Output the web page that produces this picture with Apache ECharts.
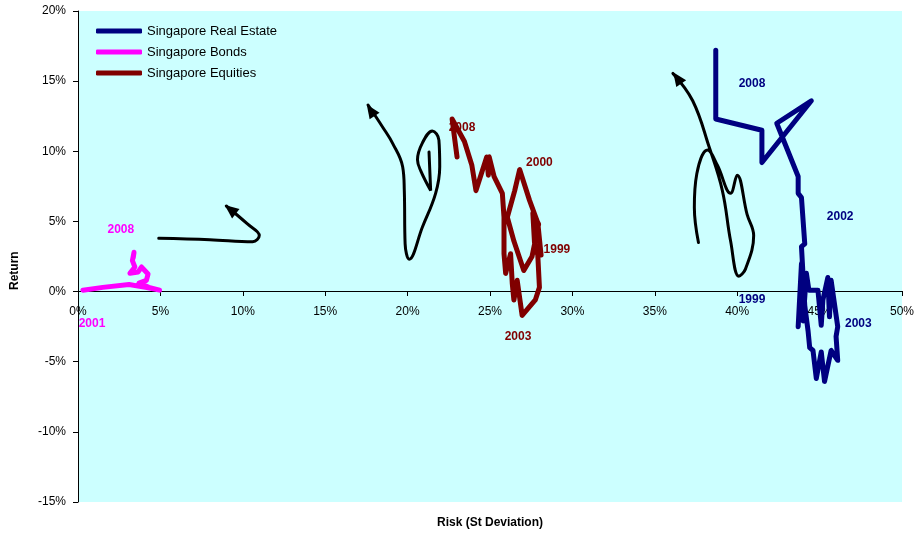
<!DOCTYPE html>
<html>
<head>
<meta charset="utf-8">
<script src="https://cdn.jsdelivr.net/npm/echarts@6/dist/echarts.min.js"></script>
<style>
  html, body { margin: 0; padding: 0; background: #fff; }
  #chart { width: 917px; height: 537px; }
</style>
</head>
<body>
<div id="chart"></div>
<script>
// Risk / return paths, [risk %, return %]
var bonds = [[0.3, 0.1], [1.5, 0.3], [3.1, 0.5], [4.1, 0.3], [4.95, 0.1], [4.3, 0.3], [3.7, 0.6],
  [4.15, 0.8], [4.25, 1.25], [3.85, 1.75], [3.65, 1.4], [3.15, 1.3], [3.45, 1.75], [3.3, 2.2],
  [3.4, 2.8], [3.35, 2.4]];

var equities = [[28.1, 2.6], [27.9, 4.9], [27.4, 6.5], [26.8, 8.7], [26.5, 7.2], [26.05, 5.3],
  [26.45, 3.6], [27.05, 1.5], [27.55, 2.5], [27.95, 4.8], [27.6, 5.6], [27.7, 3.5], [27.9, 2.6],
  [28.0, 0.3], [27.75, -0.6], [26.95, -1.7], [26.65, 0.8], [26.45, -0.6], [26.35, 0.6],
  [26.25, 2.7], [25.95, 1.3], [25.85, 2.7], [25.85, 5.3], [25.75, 7.0], [25.25, 8.2],
  [24.95, 9.6], [24.9, 8.3], [24.8, 9.6], [24.15, 7.2], [23.9, 9.0], [23.45, 10.7],
  [22.7, 12.3], [23.0, 9.6]];

var realEstate = [[43.8, -0.4], [43.7, -2.5], [43.9, 2.0], [44.0, -2.1], [44.2, 1.3], [44.35, 0.1],
  [44.9, 0.1], [45.1, -2.4], [45.2, -0.6], [45.5, 1.0], [45.6, -1.8], [45.7, 0.8], [46.1, -2.5],
  [46.0, -3.2], [46.1, -4.9], [45.7, -4.2], [45.3, -6.4], [45.1, -4.3], [44.8, -6.2],
  [44.6, -4.2], [44.4, -4.0], [44.3, -2.8], [44.1, -1.0], [43.9, 3.2], [44.1, 3.4], [43.9, 6.7],
  [43.7, 7.0], [43.7, 8.2], [42.4, 12.0], [44.5, 13.6], [41.5, 9.2], [41.5, 11.5],
  [38.7, 12.3], [38.7, 17.2]];

// hand-drawn trend arrows
var curveBonds = [[4.9, 3.8], [8.0, 3.7], [10.6, 3.55], [11.0, 4.0], [10.3, 4.8], [9.0, 6.1]];
var curveEquities = [[21.3, 9.95], [21.4, 7.2], [20.8, 8.6], [20.6, 9.4], [20.9, 10.6], [21.5, 11.45],
  [21.9, 10.8], [21.95, 8.9], [21.7, 7.0], [20.9, 4.6], [20.1, 2.3], [19.85, 3.4], [19.8, 7.2],
  [19.7, 8.9], [19.1, 10.55], [18.5, 11.7], [17.6, 13.3]];
var curveRealEstate = [[37.65, 3.5], [37.4, 6.0], [37.55, 8.4], [38.2, 10.1], [38.8, 9.0],
  [39.6, 7.0], [40.0, 8.3], [40.6, 5.5], [41.0, 4.0], [40.5, 1.6], [40.1, 1.1], [39.6, 3.6],
  [39.1, 7.2], [38.3, 10.3], [37.3, 13.6], [36.1, 15.55]];
var arrowHeads = [[9.24, 5.86, 52], [17.76, 12.93, 34], [36.36, 15.23, 35]];

// year labels
var bondYears = [["2008", 2.6, 4.43], ["2001", 0.85, -2.29]];
var equityYears = [["2008", 23.3, 11.71], ["2000", 28.0, 9.21], ["1999", 29.06, 3.0], ["2003", 26.7, -3.21]];
var realEstateYears = [["2008", 40.9, 14.79], ["2002", 46.25, 5.36], ["1999", 40.9, -0.57], ["2003", 47.35, -2.29]];

var xTicks = { min: 0, max: 50, step: 5 };
var yTicks = { min: -15, max: 20, step: 5 };

var FONT = "'Liberation Sans', Arial, sans-serif";
var C_RE = "#000080", C_BOND = "#ff00ff", C_EQ = "#800000";

function pathSeries(name, data, color, width) {
  return {
    name: name, type: "line", data: data, symbol: "none",
    lineStyle: { color: color, width: width, join: "round", cap: "round" },
    itemStyle: { color: color }, z: 3, animation: false
  };
}
function curveSeries(data) {
  return {
    type: "line", data: data, symbol: "none", smooth: 0.4,
    lineStyle: { color: "#000", width: 3, cap: "round" }, z: 2, animation: false, silent: true
  };
}
function yearSeries(list, color) {
  return {
    type: "scatter", symbolSize: 0, z: 5, animation: false, silent: true,
    itemStyle: { color: color, opacity: 1 },
    data: list.map(function (d) { return { name: d[0], value: [d[1], d[2]] }; }),
    label: {
      show: true, position: "inside", formatter: "{b}", color: color,
      fontFamily: FONT, fontSize: 12, fontWeight: "bold"
    }
  };
}

var chart = echarts.init(document.getElementById("chart"), null, { renderer: "canvas" });
chart.setOption({
  backgroundColor: "#fff",
  animation: false,
  grid: { left: 78, right: 12, top: 11, bottom: 35, show: true, backgroundColor: "#ccffff", borderWidth: 0 },
  legend: {
    data: ["Singapore Real Estate", "Singapore Bonds", "Singapore Equities"],
    orient: "vertical", left: 96, top: 24, padding: 0, itemGap: 7,
    icon: "roundRect", itemWidth: 46, itemHeight: 5,
    textStyle: { fontFamily: FONT, fontSize: 13, color: "#000", lineHeight: 14 }
  },
  xAxis: {
    type: "value", min: xTicks.min, max: xTicks.max, interval: xTicks.step,
    position: "bottom", offset: -211,
    axisLine: { onZero: false, lineStyle: { color: "#000", width: 1 } },
    axisTick: { show: true, length: 5, lineStyle: { color: "#000" } },
    axisLabel: { formatter: "{value}%", color: "#000", fontFamily: FONT, fontSize: 12, margin: 15 },
    splitLine: { show: false }
  },
  yAxis: {
    type: "value", min: yTicks.min, max: yTicks.max, interval: yTicks.step,
    axisLine: { show: true, onZero: false, lineStyle: { color: "#000", width: 1 } },
    axisTick: { show: true, length: 5, lineStyle: { color: "#000" } },
    axisLabel: { formatter: "{value}%", color: "#000", fontFamily: FONT, fontSize: 12, margin: 12 },
    splitLine: { show: false }
  },
  graphic: [
    { type: "text", left: 437, top: 517,
      style: { text: "Risk (St Deviation)", font: "bold 12px " + FONT, fill: "#000" } },
    { type: "text", x: 9, y: 290, rotation: Math.PI / 2,
      style: { text: "Return", font: "bold 12px " + FONT, fill: "#000" } }
  ],
  series: [
    curveSeries(curveBonds),
    curveSeries(curveEquities),
    curveSeries(curveRealEstate),
    {
      type: "scatter", symbol: "triangle", symbolSize: [12, 14], z: 2, animation: false, silent: true,
      itemStyle: { color: "#000", opacity: 1 },
      data: arrowHeads.map(function (a) { return { value: [a[0], a[1]], symbolRotate: a[2] }; })
    },
    pathSeries("Singapore Real Estate", realEstate, C_RE, 5),
    pathSeries("Singapore Bonds", bonds, C_BOND, 5),
    pathSeries("Singapore Equities", equities, C_EQ, 5),
    yearSeries(bondYears, C_BOND),
    yearSeries(equityYears, C_EQ),
    yearSeries(realEstateYears, C_RE)
  ]
});
</script>
</body>
</html>
